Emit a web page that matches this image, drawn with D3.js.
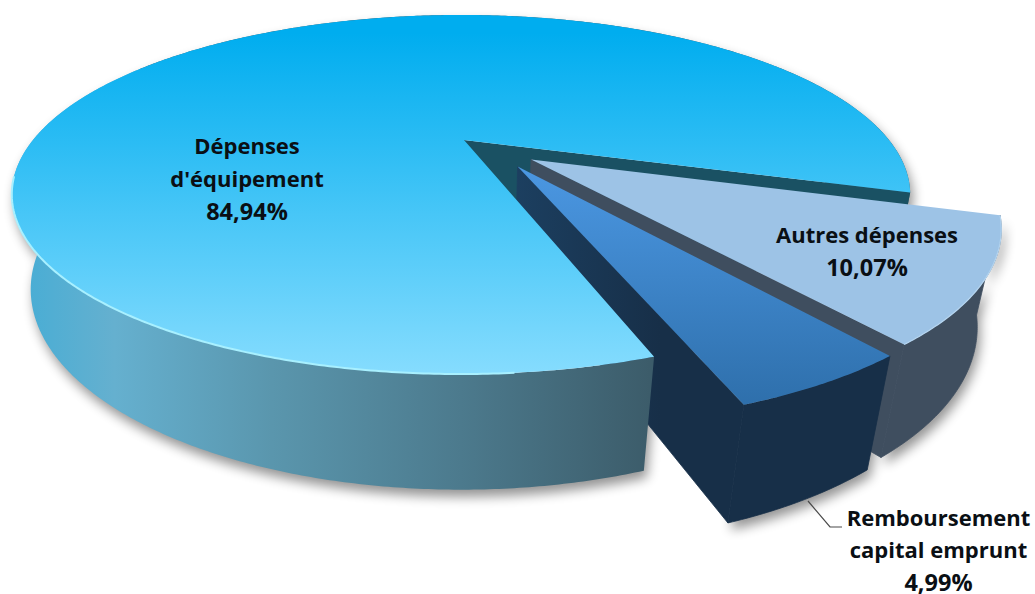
<!DOCTYPE html>
<html lang="fr">
<head>
<meta charset="utf-8">
<script src="https://cdn.jsdelivr.net/npm/d3@7/dist/d3.min.js"></script>
<style>
  html, body { margin: 0; padding: 0; background: #fff; }
  svg { display: block; }
  text { font-family: "Open Sans", Lato, sans-serif; font-weight: 700; fill: #0a0f14; text-anchor: middle; }
</style>
</head>
<body>
<svg id="chart" width="1035" height="594"></svg>
<script>
// Budget breakdown
const categories = ["Dépenses d'équipement", "Autres dépenses", "Remboursement capital emprunt"];
const shares = [84.94, 10.07, 4.99];
const labelLines = [["Dépenses", "d'équipement"], ["Autres dépenses"], ["Remboursement", "capital emprunt"]];

// Camera for the tilted disc: u to the right, v away from the viewer, z downwards.
const origin = { x: 461, y: 140 };
const cam = { B: 428, A: 163, C: 94.5, k: 0.3036, m: 0.04 };
const project = (u, v, z) => {
  const w = 1 + cam.k * v + cam.m * z;
  return [origin.x + cam.B * u / w, origin.y + (-cam.A * v + cam.C * z) / w];
};

// Exploded placement of each slice on the disc plane; hub is the wedge tip's extra shift.
const slicePlacement = [
  { du: 0, dv: 0, r: 1, hub: 0.007 },
  { du: 0.158, dv: -0.115, r: 0.99, hub: 0 },
  { du: 0.126, dv: -0.155, r: 0.985, hub: 0 }
];

const toRad = Math.PI / 180;
const firstAngle = 161.25 * toRad;
const arcs = d3.pie().sort(null).value(d => d)
  .startAngle(firstAngle).endAngle(firstAngle + 2 * Math.PI)(shares);

const point = (i, angle, radial, z) => {
  const p = slicePlacement[i];
  return project(p.du + radial * p.r * Math.sin(angle), p.dv + radial * p.r * Math.cos(angle), z);
};
const hubPoint = (i, z) => {
  const p = slicePlacement[i];
  return project(p.du + p.hub, p.dv, z);
};
const arcPoints = (i, a0, a1, z) => {
  const n = Math.max(2, Math.ceil(Math.abs(a1 - a0) / (0.5 * toRad)));
  return d3.range(n + 1).map(j => point(i, a0 + (a1 - a0) * j / n, 1, z));
};
const line = d3.line();
const closed = pts => line(pts) + "Z";

const topPath = (i, a) => closed([hubPoint(i, 0), ...arcPoints(i, a.startAngle, a.endAngle, 0)]);
const sidePath = (i, a0, a1) => closed([...arcPoints(i, a0, a1, 0), ...arcPoints(i, a1, a0, 1)]);
const wallPath = (i, angle) => closed([hubPoint(i, 0), point(i, angle, 1, 0), point(i, angle, 1, 1), hubPoint(i, 1)]);

const svg = d3.select("#chart");
const defs = svg.append("defs");

const gradient = (id, x1, y1, x2, y2, stops) => {
  const g = defs.append("linearGradient").attr("id", id).attr("gradientUnits", "userSpaceOnUse")
    .attr("x1", x1).attr("y1", y1).attr("x2", x2).attr("y2", y2);
  stops.forEach(([o, c]) => g.append("stop").attr("offset", o).attr("stop-color", c));
};
gradient("mainTop", 0, 15, 0, 372, [[0, "#00adef"], [0.05, "#00adef"], [1, "#85dcfe"]]);
gradient("mainSide", 20, 0, 650, 0, [[0, "#47add5"], [0.15, "#65b0cf"], [0.4, "#5a96ad"], [0.7, "#4c7a8d"], [1, "#3c5c6a"]]);
gradient("rembTop", 0, 168, 0, 407, [[0, "#4b97e2"], [1, "#2e6fab"]]);
gradient("rembWall", 516, 0, 660, 0, [[0, "#1c3f60"], [1, "#172f48"]]);

defs.append("filter").attr("id", "softShadow").attr("x", "-10%").attr("y", "-10%").attr("width", "120%").attr("height", "125%")
  .append("feGaussianBlur").attr("stdDeviation", 6);
defs.append("filter").attr("id", "rimGlow").attr("x", "-5%").attr("y", "-5%").attr("width", "110%").attr("height", "110%")
  .append("feGaussianBlur").attr("stdDeviation", 0.7);

// Soft cast shadow beneath all three extruded slices
const shadow = svg.append("g").attr("filter", "url(#softShadow)").attr("fill", "#000").attr("opacity", 0.42)
  .attr("transform", "translate(3,7)");
arcs.forEach((a, i) => shadow.append("path").attr("d", sidePath(i, a.startAngle, a.endAngle)));

const [mainArc, otherArc, rembArc] = arcs;
const frontEnd = 300 * toRad;

// Back part of the large slice: its outer side and the cut face beside the gap
svg.append("path").attr("d", sidePath(0, frontEnd, mainArc.endAngle)).attr("fill", "#3e6070");
svg.append("path").attr("d", wallPath(0, mainArc.endAngle)).attr("fill", "#1a5163");

// The two exploded slices; faces are stroked in their own colour to hide seams
const drawSlice = (i, a, sideFill, wallFill, topFill) => {
  const g = svg.append("g").attr("aria-label", categories[i]);
  g.append("path").attr("d", sidePath(i, a.startAngle, a.endAngle))
    .attr("fill", sideFill).attr("stroke", sideFill).attr("stroke-width", 0.8);
  g.append("path").attr("d", wallPath(i, a.endAngle))
    .attr("fill", wallFill).attr("stroke", wallFill).attr("stroke-width", 0.8);
  g.append("path").attr("d", topPath(i, a)).attr("fill", topFill);
};
drawSlice(1, otherArc, "#3f4e5f", "#3f4e5f", "#9dc3e6");
svg.append("path").attr("d", line(arcPoints(1, otherArc.startAngle, otherArc.endAngle, 0)))
  .attr("fill", "none").attr("stroke", "#b5d5f0").attr("stroke-width", 1.2).attr("filter", "url(#rimGlow)");
drawSlice(2, rembArc, "#172f48", "url(#rembWall)", "url(#rembTop)");

// Front part of the large slice sits nearest the viewer, over the small slice's lower wall
const mainGroup = svg.append("g").attr("aria-label", categories[0]);
mainGroup.append("path").attr("d", sidePath(0, mainArc.startAngle, frontEnd)).attr("fill", "url(#mainSide)");
mainGroup.append("path").attr("d", topPath(0, mainArc)).attr("fill", "url(#mainTop)");
mainGroup.append("path").attr("d", line(arcPoints(0, 175 * toRad, 258 * toRad, 0)))
  .attr("fill", "none").attr("stroke", "#a8f0ff").attr("stroke-width", 2).attr("filter", "url(#rimGlow)");

// Leader line for the smallest slice
svg.append("path").attr("d", line([[808, 501], [830, 527], [842, 527]]))
  .attr("fill", "none").attr("stroke", "#4a4a4a").attr("stroke-width", 1.2);

const percent = d3.formatLocale({ decimal: ",", thousands: " ", grouping: [3], currency: ["", " €"] }).format(".2f");
const labelAnchor = [{ x: 247, y: 153.5 }, { x: 867, y: 243 }, { x: 938.5, y: 526 }];
const lineHeight = [33, 33, 32.4];
shares.forEach((v, i) => {
  const t = svg.append("text").attr("font-size", 22);
  labelLines[i].forEach((s, j) => {
    t.append("tspan").attr("x", labelAnchor[i].x).attr("y", labelAnchor[i].y + j * lineHeight[i]).text(s);
  });
  t.append("tspan").attr("x", labelAnchor[i].x)
    .attr("y", labelAnchor[i].y + labelLines[i].length * lineHeight[i])
    .attr("font-size", 23.5).text(percent(v) + "%");
});
</script>
</body>
</html>
